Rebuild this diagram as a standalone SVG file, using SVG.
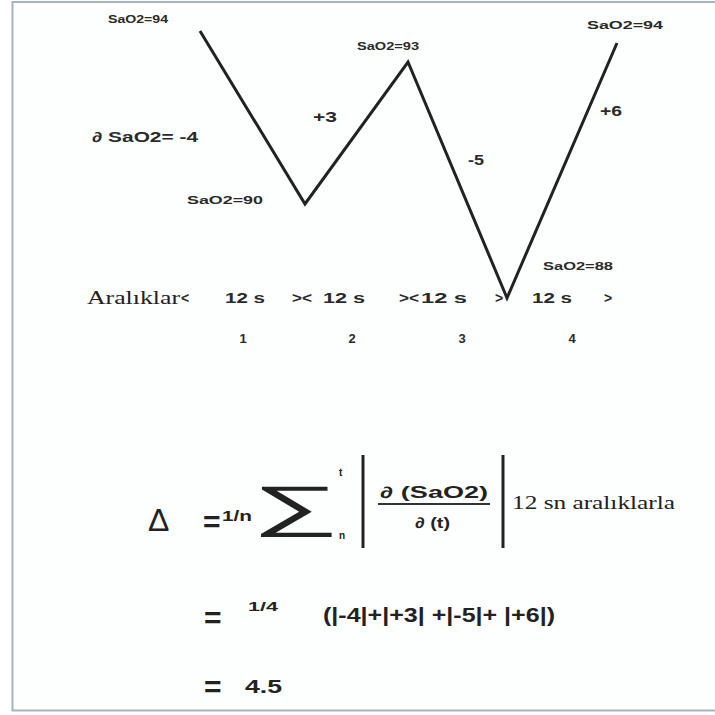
<svg xmlns="http://www.w3.org/2000/svg" width="715" height="715" viewBox="0 0 715 715">
<style>
.s{font-family:"Liberation Sans",Arial,sans-serif;fill:#2a2a2a;font-weight:bold}
.lab{font-size:11px}
.m{font-size:14px}
.r{font-family:"Liberation Serif","Times New Roman",serif;fill:#222}
.f{font-family:"Liberation Sans",Arial,sans-serif;fill:#222}
</style>
<rect x="0" y="0" width="715" height="715" fill="#ffffff"/>
<rect x="12.5" y="2" width="720" height="708.5" fill="#fdfefe" stroke="#aab3bd" stroke-width="2"/>
<g id="connectors">
<polyline points="200,31 305,204 408,62 507,298 617,43" fill="none" stroke="#222" stroke-width="3" stroke-linejoin="miter"/>
</g>
<g id="labels-graph">
<text class="s lab" x="108" y="23" textLength="60" lengthAdjust="spacingAndGlyphs">SaO2=94</text>
<text class="s m" x="92" y="142" textLength="106" lengthAdjust="spacingAndGlyphs">∂ SaO2= -4</text>
<text class="s m" x="313" y="122" textLength="24" lengthAdjust="spacingAndGlyphs">+3</text>
<text class="s lab" x="187" y="204" textLength="76" lengthAdjust="spacingAndGlyphs">SaO2=90</text>
<text class="s lab" x="357" y="50" textLength="62" lengthAdjust="spacingAndGlyphs">SaO2=93</text>
<text class="s m" x="468" y="165" textLength="16" lengthAdjust="spacingAndGlyphs">-5</text>
<text class="s lab" x="587" y="29" textLength="76" lengthAdjust="spacingAndGlyphs">SaO2=94</text>
<text class="s m" x="600" y="116" textLength="22" lengthAdjust="spacingAndGlyphs">+6</text>
<text class="s lab" x="543" y="270" textLength="70" lengthAdjust="spacingAndGlyphs">SaO2=88</text>
</g>
<g id="intervals">
<text class="r" x="87" y="304" font-size="18" textLength="93" lengthAdjust="spacingAndGlyphs">Aralıklar</text>
<text class="s m" x="181" y="303">&lt;</text>
<text class="s m" x="225" y="303" textLength="40" lengthAdjust="spacingAndGlyphs">12 s</text>
<text class="s m" x="292" y="303" textLength="20" lengthAdjust="spacingAndGlyphs">&gt;&lt;</text>
<text class="s m" x="323" y="303" textLength="42" lengthAdjust="spacingAndGlyphs">12 s</text>
<text class="s m" x="399" y="303" textLength="20" lengthAdjust="spacingAndGlyphs">&gt;&lt;</text>
<text class="s m" x="421" y="303" textLength="46" lengthAdjust="spacingAndGlyphs">12 s</text>
<text class="s m" x="495" y="303">&gt;</text>
<text class="s m" x="532" y="303" textLength="40" lengthAdjust="spacingAndGlyphs">12 s</text>
<text class="s m" x="604" y="303">&gt;</text>
<text class="s" x="243" y="343" font-size="13" text-anchor="middle">1</text>
<text class="s" x="352" y="343" font-size="13" text-anchor="middle">2</text>
<text class="s" x="462" y="343" font-size="13" text-anchor="middle">3</text>
<text class="s" x="572" y="343" font-size="13" text-anchor="middle">4</text>
</g>
<g id="formula">
<text class="f" x="148" y="531" font-size="32">Δ</text>
<text class="f" x="203" y="532" font-size="30" font-weight="bold">=</text>
<text class="f" x="222" y="521" font-size="14" font-weight="bold" textLength="30" lengthAdjust="spacingAndGlyphs">1/n</text>
<text class="f" font-size="56" transform="translate(252,525) scale(2.2,1)">∑</text>
<text class="f" x="339" y="476" font-size="10" font-weight="bold">t</text>
<text class="f" x="339" y="539" font-size="10" font-weight="bold">n</text>
<line x1="363" y1="455" x2="363" y2="548" stroke="#222" stroke-width="3"/>
<line x1="503" y1="455" x2="503" y2="548" stroke="#222" stroke-width="3"/>
<text class="f" x="380" y="498" font-size="16" font-weight="bold" textLength="108" lengthAdjust="spacingAndGlyphs">∂ (SaO2)</text>
<line x1="378" y1="504" x2="490" y2="504" stroke="#333" stroke-width="2"/>
<text class="f" x="415" y="528" font-size="15" font-weight="bold" textLength="35" lengthAdjust="spacingAndGlyphs">∂ (t)</text>
<text class="r" x="512" y="509" font-size="19" textLength="163" lengthAdjust="spacingAndGlyphs">12 sn aralıklarla</text>
</g>
<g id="result">
<text class="f" x="204" y="628" font-size="30" font-weight="bold">=</text>
<text class="f" x="248" y="611" font-size="13" font-weight="bold" textLength="30" lengthAdjust="spacingAndGlyphs">1/4</text>
<text class="f" x="323" y="622" font-size="20" font-weight="bold" textLength="232" lengthAdjust="spacingAndGlyphs">(|-4|+|+3| +|-5|+ |+6|)</text>
<text class="f" x="204" y="697" font-size="30" font-weight="bold">=</text>
<text class="f" x="245" y="693" font-size="18" font-weight="bold" textLength="37" lengthAdjust="spacingAndGlyphs">4.5</text>
</g>
</svg>
